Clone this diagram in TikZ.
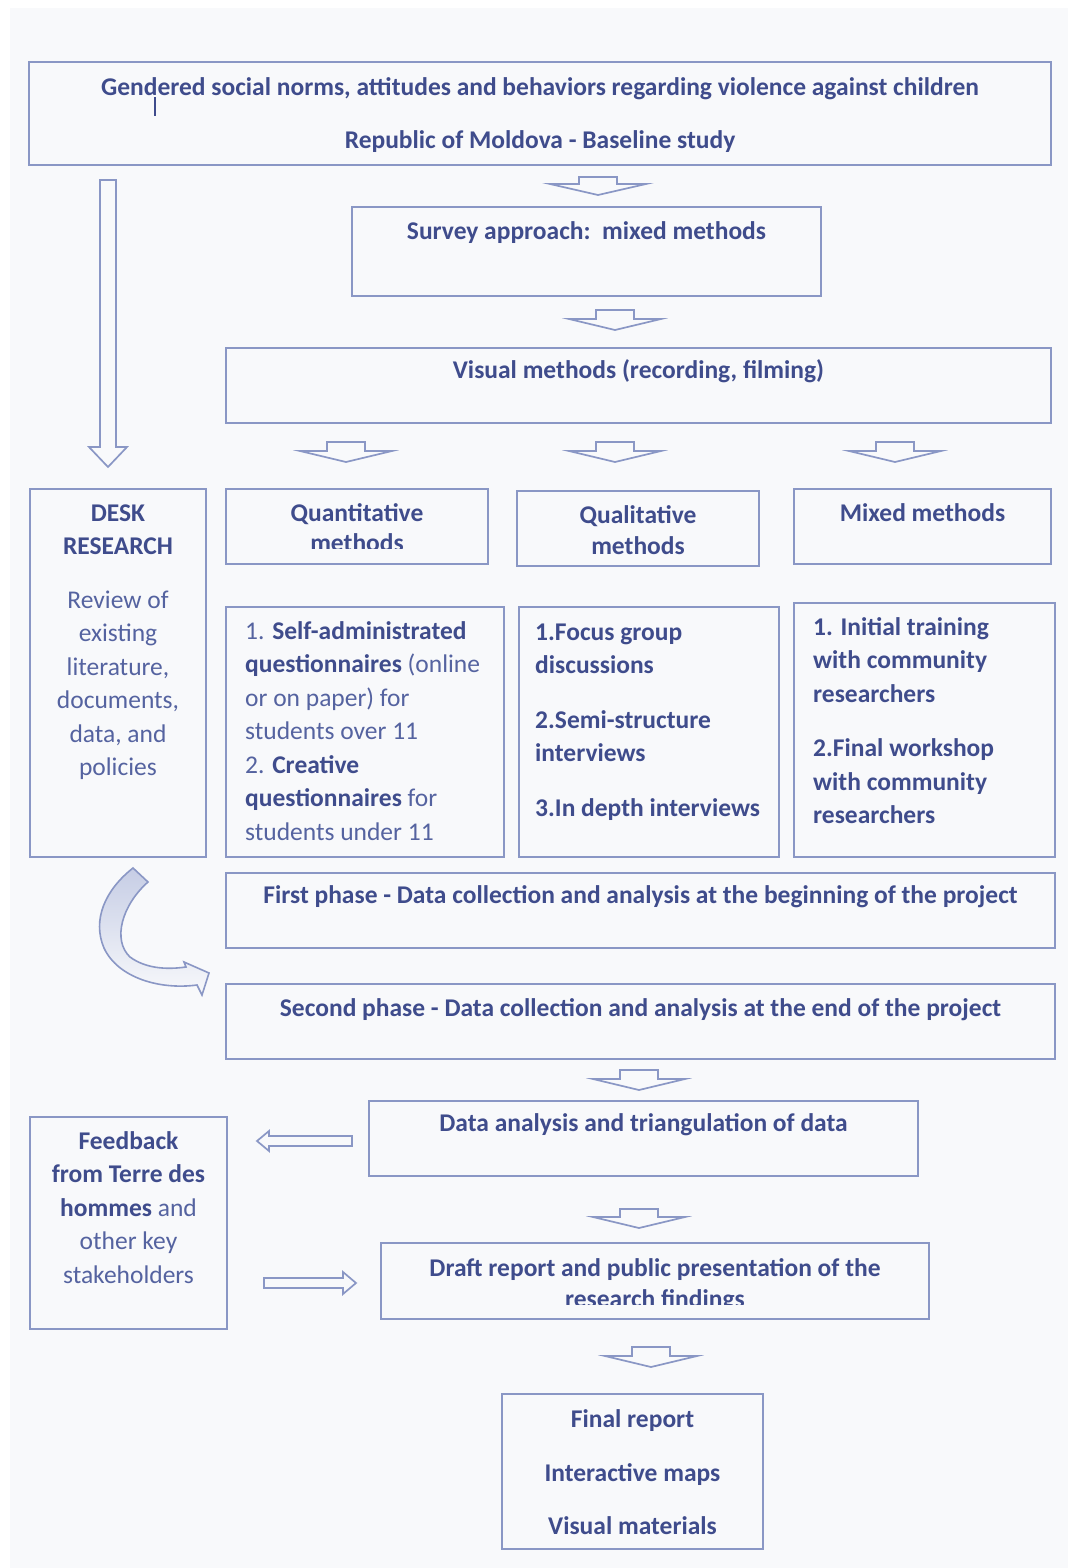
\documentclass[tikz,border=0pt]{standalone}
\usepackage{fontspec}
\setmainfont{Carlito}
\usetikzlibrary{positioning, calc}
\definecolor{bg}{HTML}{F8F9FB}
\definecolor{edge}{HTML}{8A97C5}
\definecolor{ink}{HTML}{3F4C8C}
\definecolor{inkl}{HTML}{5563A0}
\definecolor{shade}{HTML}{C6CDE5}
\newcommand{\lt}[1]{{\mdseries\color{inkl}#1}}
\tikzset{
  box/.style={draw=edge, line width=2pt, anchor=north west, inner sep=0pt},
  hd/.style={font=\bfseries\fontsize{25.5}{33.5}\selectfont, text=ink, align=center, inner sep=0pt},
  hl/.style={hd, align=left},
  blk/.style={draw=edge, line width=1.7pt, fill=bg},
  blkv/.style n args={3}{blk, to path={let \p1=(\tikztostart), \p2=(\tikztotarget),
    \p3=($(\tikztotarget)!#3!(\tikztostart)$) in
    (\x1-#1,\y1) -- (\x1-#1,\y3) -- (\x1-#2,\y3) -- (\x2,\y2) -- (\x1+#2,\y3) -- (\x1+#1,\y3) -- (\x1+#1,\y1) -- cycle}},
  blkh/.style n args={3}{blk, to path={let \p1=(\tikztostart), \p2=(\tikztotarget),
    \p3=($(\tikztotarget)!#3!(\tikztostart)$) in
    (\x1,\y1-#1) -- (\x3,\y1-#1) -- (\x3,\y1-#2) -- (\x2,\y2) -- (\x3,\y1+#2) -- (\x3,\y1+#1) -- (\x1,\y1+#1) -- cycle}},
}
\begin{document}
\begin{tikzpicture}[x=1pt, y=-1pt]
\useasboundingbox (0,0) rectangle (1073,1568);
\fill[white] (0,0) rectangle (1073,1568);
\fill[bg] (10,8) rectangle (1068,1568);

% boxes
\node[box, minimum width=1022, minimum height=103] (title) at (28,61) {};
\node[box, minimum width=469, minimum height=89] (survey) at (351,206) {};
\node[box, minimum width=825, minimum height=75] (visual) at (225,347) {};
\node[box, minimum width=176, minimum height=368] (desk) at (29,488) {};
\node[box, minimum width=262, minimum height=75] (quant) at (225,488) {};
\node[box, minimum width=242, minimum height=75] (qual) at (516,490) {};
\node[box, minimum width=257, minimum height=75] (mixed) at (793,488) {};
\node[box, minimum width=278, minimum height=250] (quantd) at (225,606) {};
\node[box, minimum width=260, minimum height=250] (quald) at (518,606) {};
\node[box, minimum width=261, minimum height=254] (mixedd) at (793,602) {};
\node[box, minimum width=829, minimum height=75] (first) at (225,872) {};
\node[box, minimum width=829, minimum height=75] (second) at (225,983) {};
\node[box, minimum width=549, minimum height=75] (data) at (368,1100) {};
\node[box, minimum width=197, minimum height=212] (feedback) at (29,1116) {};
\node[box, minimum width=548, minimum height=76] (draft) at (380,1242) {};
\node[box, minimum width=261, minimum height=155] (final) at (501,1393) {};

% texts (each starts with a strut so the first baseline sits 23.5pt below the top)
\node[hd, below=10.5pt of title.north] (titleT) {\strut Gendered social norms, attitudes and behaviors regarding violence against children\\[19.5pt] Republic of Moldova - Baseline study};
\draw[ink, line width=2.5pt] (155,97) -- (155,116);
\node[hd, below=9.5pt of survey.north] (surveyT) {\strut Survey approach:\ \ mixed methods};
\node[hd, below=7.5pt of visual.north] (visualT) {\strut Visual methods (recording,\ filming)};
\node[hd, below=9.5pt of desk.north] (deskT) {\strut DESK\\RESEARCH\\[20pt] \lt{Review of}\\ \lt{existing}\\ \lt{literature,}\\ \lt{documents,}\\ \lt{data, and}\\ \lt{policies}};
\begin{scope}
  \clip (quant.north west) rectangle ([yshift=17pt]quant.south east);
  \node[hd, below=9.5pt of quant.north] (quantT) {\strut Quantitative\\[-3.5pt]methods};
\end{scope}
\node[hd, below=9.5pt of qual.north] (qualT) {\strut Qualitative\\[-2.5pt]methods};
\node[hd, below=9.5pt of mixed.north] (mixedT) {\strut Mixed methods};
\node[hl, below right=9.5pt and 20pt of quantd.north west] (quantdT) {\strut\lt{1.} Self-administrated\\ questionnaires \lt{(online}\\ \lt{or on paper) for}\\ \lt{students over 11}\\ \lt{2.} Creative\\ questionnaires \lt{for}\\ \lt{students under 11}};
\node[hl, below right=10.5pt and 17pt of quald.north west] (qualdT) {\strut 1.Focus group\\ discussions\\[21pt] 2.Semi-structure\\ interviews\\[21pt] 3.In depth interviews};
\node[hl, below right=9.5pt and 20pt of mixedd.north west] (mixeddT) {\strut 1. Initial training\\ with community\\ researchers\\[21pt] 2.Final workshop\\ with community\\ researchers};
\node[hd, below=7.5pt of first.north] (firstT) {\strut First phase - Data collection and analysis at the beginning of the project};
\node[hd, below=9.5pt of second.north] (secondT) {\strut Second phase - Data collection and analysis at the end of the project};
\node[hd, below=7.5pt of data.north] (dataT) {\strut Data analysis and triangulation of data};
\node[hd, below=9.5pt of feedback.north] (feedbackT) {\strut Feedback\\ from Terre des\\ hommes \lt{and}\\ \lt{other key}\\ \lt{stakeholders}};
\begin{scope}
  \clip (draft.north west) rectangle ([yshift=16pt]draft.south east);
  \node[hd, below=10.5pt of draft.north] (draftT) {\strut Draft report and public presentation of the\\[-2.5pt]research findings};
\end{scope}
\node[hd, below=10.5pt of final.north] (finalT) {\strut Final report\\[21pt] Interactive maps\\[19pt] Visual materials};

% block arrows
\draw[blkv={19pt}{48pt}{11pt}] ($(title.south)+(58,11)$) to ($(survey.north)+(11.5,-11)$);
\draw[blkv={19pt}{46pt}{11pt}] ($(survey.south)+(28.5,13)$) to ($(visual.north)+(-23.5,-17)$);
\draw[blkv={19pt}{46pt}{11pt}] ($(visual.south)+(-292.5,18)$) to ($(quant.north)+(-11,-26)$);
\draw[blkv={19pt}{46pt}{11pt}] ($(visual.south)+(-23.5,18)$) to ($(qual.north)+(-23,-28)$);
\draw[blkv={19pt}{46pt}{11pt}] ($(visual.south)+(256.5,18)$) to ($(mixed.north)+(-27.5,-26)$);
\draw[blkv={19pt}{46pt}{11pt}] ($(second.south)+(-1.5,10)$) to ($(data.north)+(-4.5,-10)$);
\draw[blkv={19pt}{46pt}{11pt}] ($(data.south)+(-4.5,32)$) to ($(draft.north)+(-16,-14)$);
\draw[blkv={19pt}{46pt}{11pt}] ($(draft.south)+(-4,27)$) to ($(final.north)+(18.5,-26)$);
\draw[blkv={8pt}{19pt}{20pt}] ($(title.south west)+(80,14)$) to ($(desk.north west)+(79,-21)$);
\draw[blkh={5pt}{10pt}{12pt}] ($(data.west)+(-16,2.5)$) to ($(feedback.east)+(29,-82)$);
\draw[blkh={5pt}{11pt}{13pt}] ($(feedback.east)+(36,60)$) to ($(draft.west)+(-24,2)$);

% curved arrow desk -> second phase
\draw[draw=edge, line width=1.6pt, top color=shade, bottom color=bg]
  (133,868) -- (148,882) .. controls (122,905) and (112,940) .. (130,957)
  .. controls (145,968) and (165,970) .. (186,967) -- (184,962) -- (209,973)
  -- (202,995) -- (197,985) .. controls (160,990) and (118,978) .. (104,948)
  .. controls (92,920) and (105,890) .. (133,868) -- cycle;
\end{tikzpicture}
\end{document}
